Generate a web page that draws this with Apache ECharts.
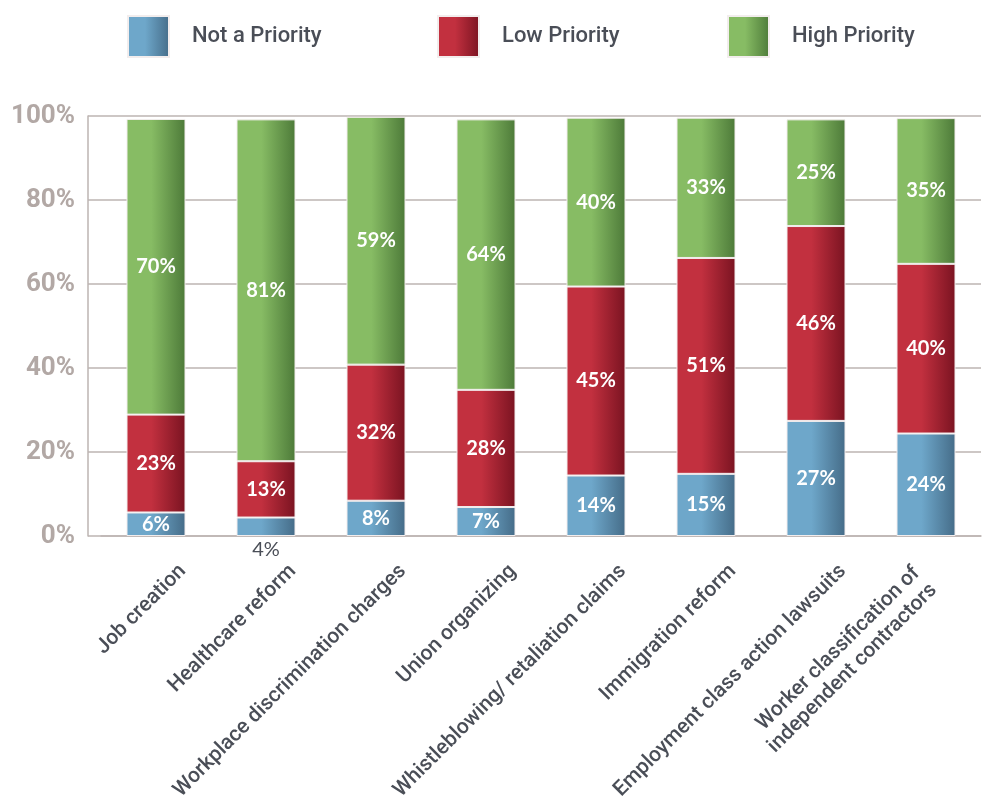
<!DOCTYPE html>
<html>
<head>
<meta charset="utf-8">
<script src="https://cdn.jsdelivr.net/npm/echarts@6/dist/echarts.min.js"></script>
<style>
  html, body { margin: 0; padding: 0; background: #ffffff; }
  #chart { width: 984px; height: 804px; }
</style>
</head>
<body>
<div id="chart"></div>
<script>
// ---- Data ----
const categories = [
  'Job creation',
  'Healthcare reform',
  'Workplace discrimination charges',
  'Union organizing',
  'Whistleblowing/ retaliation claims',
  'Immigration reform',
  'Employment class action lawsuits',
  'Worker classification of\nindependent contractors'
];
const seriesNames = ['Not a Priority', 'Low Priority', 'High Priority'];
const notPriority  = [5.6, 4.4, 8.4, 6.9, 14.4, 14.8, 27.4, 24.4];
const lowPriority  = [23.3, 13.4, 32.4, 27.9, 45.0, 51.4, 46.4, 40.4];
const highPriority = [70.4, 81.4, 59.0, 64.4, 40.2, 33.4, 25.4, 34.7];
const yTicks = [0, 20, 40, 60, 80, 100];

// ---- Styling ----
const condensed = 'Roboto, "Liberation Sans", sans-serif';
const labelFont = 'Lato, "Noto Sans", sans-serif';
const textDark = '#4a4e57';

function grad(light, dark) {
  return new echarts.graphic.LinearGradient(0, 0, 1, 0, [
    { offset: 0, color: light },
    { offset: 0.42, color: light },
    { offset: 1, color: dark }
  ]);
}
const palette = [
  grad('#6ea7ca', '#456c88'),
  grad('#c2303f', '#7a1321'),
  grad('#87bc64', '#4d7a39')
];

function makeData(values) {
  return values.map(v => {
    if (v < 5) {
      return {
        value: v,
        label: {
          position: 'bottom',
          distance: 4,
          color: textDark,
          fontWeight: 'normal'
        }
      };
    }
    return v;
  });
}

const allValues = [notPriority, lowPriority, highPriority];
const series = seriesNames.map((name, i) => ({
  name: name,
  type: 'bar',
  stack: 'total',
  barWidth: 59,
  data: makeData(allValues[i]),
  itemStyle: {
    color: palette[i],
    borderColor: '#f2eded',
    borderWidth: 1
  },
  label: {
    show: true,
    position: 'inside',
    color: '#ffffff',
    fontFamily: labelFont,
    fontWeight: 'bold',
    fontSize: 20,
    formatter: p => Math.round(p.value) + '%'
  },
  emphasis: { disabled: true }
}));

const legendLefts = [127, 437, 727];
const legends = seriesNames.map((name, i) => ({
  data: [{ name: name, itemStyle: { color: palette[i] } }],
  left: legendLefts[i],
  top: 15,
  padding: 0,
  icon: 'rect',
  itemWidth: 41,
  itemHeight: 41,
  selectedMode: false,
  textStyle: {
    fontFamily: condensed,
    fontWeight: 500,
    fontSize: 22,
    color: textDark,
    padding: [6, 0, 0, 18]
  }
}));

const xCategoryData = categories.map(c => c.indexOf('\n') >= 0
  ? { value: c, textStyle: { padding: [-10, 1, 0, 0] } }
  : c);

const option = {
  animation: false,
  backgroundColor: '#ffffff',
  legend: legends,
  grid: {
    left: 101,
    right: 3,
    top: 116,
    bottom: 268,
    outerBoundsMode: 'none'
  },
  xAxis: {
    type: 'category',
    data: xCategoryData,
    axisLine: { lineStyle: { color: '#bdb5b2', width: 1.5 } },
    axisTick: { show: false },
    axisLabel: {
      interval: 0,
      rotate: 45,
      align: 'right',
      verticalAlign: 'top',
      margin: 42,
      padding: [0, -26, 0, 0],
      fontFamily: condensed,
      fontWeight: 500,
      fontSize: 21,
      lineHeight: 24,
      color: textDark
    }
  },
  yAxis: {
    type: 'value',
    min: 0,
    max: 100,
    interval: 20,
    offset: 13,
    axisLine: { show: true, lineStyle: { color: '#bdb5b2', width: 1.5 } },
    axisTick: { show: true, inside: true, length: 13, lineStyle: { color: '#bdb5b2', width: 1.5 } },
    splitLine: { show: true, lineStyle: { color: '#bdb5b2', width: 1.5 } },
    axisLabel: {
      margin: 13,
      fontFamily: condensed,
      fontWeight: 'bold',
      fontSize: 26,
      color: '#b2a8a5',
      formatter: v => yTicks.indexOf(v) >= 0 ? v + '%' : ''
    }
  },
  series: series
};

const chart = echarts.init(document.getElementById('chart'), null, { renderer: 'canvas' });
chart.setOption(option);
</script>
</body>
</html>
